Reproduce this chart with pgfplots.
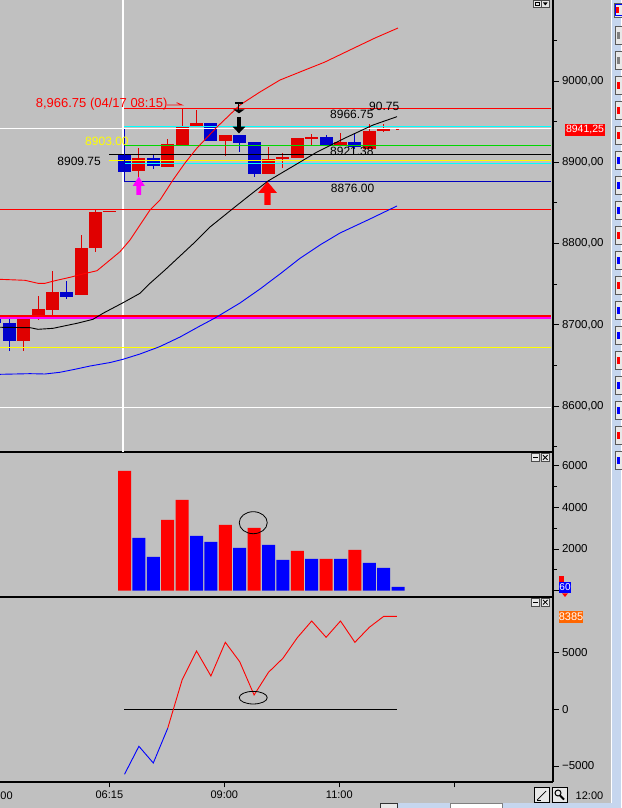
\documentclass[border=0pt]{standalone}
\usepackage{pgfplots}
\pgfplotsset{compat=1.18}
\usepackage{pgfplotstable}
\usepackage{fontspec}
\setmainfont{Liberation Sans}

\definecolor{bg}{RGB}{192,192,192}
\definecolor{cred}{RGB}{224,0,0}
\definecolor{cblue}{RGB}{0,0,204}
\definecolor{vred}{RGB}{255,0,0}
\definecolor{vblue}{RGB}{0,0,255}
\definecolor{lcyan}{RGB}{0,255,255}
\definecolor{lgreen}{RGB}{0,215,0}
\definecolor{lyellow}{RGB}{255,255,0}
\definecolor{lmag}{RGB}{255,0,255}
\definecolor{strip}{RGB}{198,214,238}
\definecolor{orng}{RGB}{255,102,0}
\definecolor{btn}{RGB}{232,232,232}
\definecolor{dblue}{RGB}{0,0,190}

% candles: k open close high low
\pgfplotstableread{
k o c h l
-7 8680.4 8710.0 8711.0 8668.0
-6 8712.0 8719.4 8735.4 8705.8
-5 8718.5 8740.3 8766.2 8712.0
-3 8736.6 8794.5 8810.5 8736.6
-2 8794.5 8838.8 8842.5 8789.5
1 8889.6 8905.6 8917.2 8882.2
3 8894.5 8922.5 8928.6 8894.5
4 8920.9 8944.6 8966.75 8920.9
5 8943.0 8948.3 8964.3 8943.0
7 8926.2 8933.5 8933.5 8907.7
10 8885.5 8904.0 8918.8 8885.5
11 8904.4 8906.8 8911.4 8892.9
12 8905.2 8929.8 8929.8 8905.2
13 8928.6 8931.1 8934.8 8920.9
15 8921.6 8924.5 8935.6 8920.0
17 8917.0 8939.0 8947.0 8917.0
18 8938.8 8942.2 8947.0 8937.2
}\redc
\pgfplotstableread{
k o c h l
-9 8710.0 8702.0 8711.0 8700.0
-8 8702.5 8680.0 8709.9 8667.7
-4 8740.3 8734.2 8753.8 8732.0
0 8910.2 8888.4 8910.2 8888.4
2 8905.2 8895.4 8908.9 8891.3
6 8948.3 8926.2 8948.3 8926.2
8 8933.5 8924.0 8933.5 8913.0
9 8924.9 8885.5 8924.9 8882.2
14 8931.0 8920.9 8934.0 8920.9
16 8924.5 8918.4 8935.6 8917.0
}\bluec

\pgfplotsset{
  panel/.style={
    scale only axis, width=553pt,
    xmin=-8.646, xmax=29.757,
    axis y line*=right, axis x line*=bottom,
    axis line style={line width=1.2pt, black, -},
    tick align=outside,
    major tick length=5.5pt, minor tick length=4pt,
    tick style={black, line width=0.8pt},
    ticklabel style={font=\fontsize{11.5}{13}\selectfont},
    /pgf/number format/assume math mode=true,
  },
  cbody/.style={draw=none, no marks, forget plot,
     error bars/.cd, y dir=both, y explicit, error mark=none,
     error bar style={line width=13pt, draw=#1}},
  cwick/.style={draw=none, no marks, forget plot,
     error bars/.cd, y dir=both, y explicit, error mark=none,
     error bar style={line width=1pt, draw=#1}},
}

\begin{document}
\begin{tikzpicture}
\fill[bg] (0,0) rectangle (621pt,808pt);
\useasboundingbox (0,0) rectangle (621pt,808pt);

%================ PRICE PANEL =================
\begin{axis}[panel, name=price, at={(0pt,808pt)}, anchor=north west,
  height=452pt, ymin=8543.4, ymax=9099.7,
  xtick=\empty,
  ytick={8600,8700,8800,8900,9000},
  yticklabels={{8600,00},{8700,00},{8800,00},{8900,00},{9000,00}},
  minor ytick={8550,8650,8750,8850,8950,9050},
]
% crosshair vertical
\addplot[white, line width=2pt] coordinates {(-0.104,8500) (-0.104,9200)};
% candles
\addplot[cwick=cred] table[x=k, y expr={(\thisrow{h}+\thisrow{l})/2}, y error expr={(\thisrow{h}-\thisrow{l})/2}] {\redc};
\addplot[cbody=cred] table[x=k, y expr={(\thisrow{o}+\thisrow{c})/2}, y error expr={abs(\thisrow{c}-\thisrow{o})/2}] {\redc};
\addplot[cwick=cblue] table[x=k, y expr={(\thisrow{h}+\thisrow{l})/2}, y error expr={(\thisrow{h}-\thisrow{l})/2}] {\bluec};
\addplot[cbody=cblue] table[x=k, y expr={(\thisrow{o}+\thisrow{c})/2}, y error expr={abs(\thisrow{o}-\thisrow{c})/2}] {\bluec};
\addplot[cred, line width=1pt] coordinates {(-1.49,8838.8) (-0.59,8838.8)};
\addplot[cred, line width=2pt] coordinates {(18.85,8941.25) (19.05,8941.25)};

% horizontal lines
\addplot[vred, line width=1pt] coordinates {(-0.03,8966.6) (29.62,8966.6)};
\addplot[lcyan, line width=1.6pt] coordinates {(-0.03,8944.2) (29.62,8944.2)};
\addplot[white, line width=1.1pt] coordinates {(-9,8941.0) (29.62,8941.0)};
\addplot[lgreen, line width=1pt] coordinates {(-0.03,8920.9) (29.62,8920.9)};
\addplot[black, line width=1pt] coordinates {(-1.07,8909.8) (29.62,8909.8)};
\addplot[lcyan, line width=1pt] coordinates {(-0.03,8899.0) (29.62,8899.0)};
\addplot[lyellow, line width=1.5pt] coordinates {(-1.07,8902.0) (29.62,8902.0)};
\addplot[dblue, line width=1pt] coordinates {(-0.03,8876.4) (29.62,8876.4)};
\addplot[dblue, line width=1pt] coordinates {(-0.03,8876.4) (-0.03,8940.5)};
\addplot[vred, line width=1pt] coordinates {(-9,8842.1) (29.62,8842.1)};
\addplot[vred, line width=2.2pt] coordinates {(-9,8711.0) (29.62,8711.0)};
\addplot[lmag, line width=1.3pt] coordinates {(-9,8708.2) (29.62,8708.2)};
\addplot[lyellow, line width=0.9pt] coordinates {(-9,8672.6) (29.62,8672.6)};
\addplot[white, line width=1pt] coordinates {(-9,8598.6) (29.62,8598.6)};

% upper band (red)
\addplot[vred, line width=0.9pt] coordinates {
(-8.646,8755.9) (-6.910,8754.7) (-6.007,8751.0) (-5.521,8751.0) (-4.826,8754.2)
(-3.785,8758.4) (-2.882,8762.5) (-1.910,8766.5) (-1.007,8779.7) (-0.313,8789.9)
(0.382,8804.3) (1.076,8822.8) (1.771,8841.2) (2.465,8853.5) (3.368,8878.2)
(4.201,8899.1) (5.035,8917.5) (6.424,8943.4) (8.021,8970.5) (9.410,8986.5)
(10.799,9001.2) (12.188,9011.1) (13.924,9023.4) (15.660,9038.2) (17.396,9052.9)
(18.993,9065.2)};
% middle average (black)
\addplot[black, line width=0.9pt] coordinates {
(-8.646,8696.9) (-6.563,8696.4) (-6.007,8694.4) (-4.965,8695.6) (-3.299,8701.8)
(-2.188,8706.7) (-1.493,8714.1) (-0.104,8727.1) (1.076,8738.7) (1.771,8751.0)
(2.813,8767.4) (3.854,8784.6) (4.896,8801.8) (5.938,8820.3) (7.535,8843.1)
(8.715,8859.7) (9.965,8876.9) (11.493,8892.9) (13.368,8912.6) (15.313,8929.8)
(17.257,8945.8) (18.924,8956.1)};
% lower band (blue)
\addplot[vblue, line width=0.9pt] coordinates {
(-8.646,8639.0) (-6.563,8639.8) (-5.521,8639.4) (-4.479,8641.5) (-3.438,8645.2)
(-2.396,8649.2) (-1.007,8653.5) (-0.104,8657.5) (1.076,8664.0) (2.465,8673.2)
(3.854,8684.9) (5.243,8698.5) (6.285,8708.3) (8.021,8726.8) (9.410,8744.0)
(10.799,8762.5) (12.188,8781.8) (13.576,8798.2) (14.965,8812.9) (17.049,8830.2)
(18.924,8846.2)};

% arrows
\fill[lmag] (0.99,8882.2) -- (1.41,8870.8) -- (1.16,8870.8) -- (1.16,8859.7) -- (0.82,8859.7) -- (0.82,8870.8) -- (0.57,8870.8) -- cycle;
\fill[vred] (9.93,8876.1) -- (10.59,8862.2) -- (10.14,8862.2) -- (10.14,8847.4) -- (9.72,8847.4) -- (9.72,8862.2) -- (9.27,8862.2) -- cycle;
\draw[black, line width=2pt] (7.67,8972.9) -- (8.23,8972.9);
\draw[black, line width=1pt] (7.95,8972.9) -- (7.95,8964);
\fill[black] (7.55,8965.2) -- (8.35,8965.2) -- (7.95,8960.2) -- cycle;
\fill[black] (7.81,8956.1) rectangle (8.09,8943.8);
\fill[black] (7.51,8943.8) -- (8.39,8943.8) -- (7.95,8935.6) -- cycle;
\draw[vred, line width=0.8pt] (2.95,8970.5) -- (3.99,8970.5) -- (3.62,8973.3);

% labels
\node[anchor=base west, inner sep=0pt, text=vred, font=\fontsize{13}{15}\selectfont] at (-6.17,8966.9) {8,966.75 (04/17 08:15)};
\node[anchor=base west, inner sep=0pt, font=\fontsize{12}{14}\selectfont] at (16.98,8964.3) {90.75};
\node[anchor=base west, inner sep=0pt, font=\fontsize{12}{14}\selectfont] at (14.27,8954.1) {8966.75};
\node[anchor=base west, inner sep=0pt, font=\fontsize{12}{14}\selectfont] at (14.27,8908.9) {8921.38};
\node[anchor=base west, inner sep=0pt, font=\fontsize{12}{14}\selectfont] at (14.32,8863.0) {8876.00};
\node[anchor=base west, inner sep=0pt, font=\fontsize{12}{14}\selectfont] at (-4.67,8896.6) {8909.75};
\node[anchor=base west, inner sep=0pt, text=lyellow, font=\fontsize{12}{14}\selectfont] at (-2.74,8920.9) {8903.00};
\end{axis}

%================ VOLUME PANEL =================
\begin{axis}[panel, name=vol, at={(0pt,356pt)}, anchor=north west,
  height=145pt, ymin=-302, ymax=6658,
  xtick=\empty,
  ytick={0,2000,4000,6000}, yticklabels={{},2000,4000,6000},
  minor ytick={1000,3000,5000},
]
\addplot[ybar, bar width=13pt, bar shift=0pt, fill=vred, draw=none] coordinates {
(0,5746) (3,3394) (4,4354) (7,3154) (9,3010) (12,1906) (14,1522) (16,1954)};
\addplot[ybar, bar width=13pt, bar shift=0pt, fill=vblue, draw=none] coordinates {
(1,2530) (2,1618) (5,2626) (6,2338) (8,2050) (10,2194) (11,1474) (13,1522)
(15,1522) (17,1330) (18,1090) (19,178)};
\draw[black, line width=0.8pt] (8.94,3264) ellipse [x radius=14pt, y radius=11pt];
\end{axis}

%================ INDICATOR PANEL =================
\begin{axis}[panel, name=ind, at={(0pt,211pt)}, anchor=north west,
  height=185pt, ymin=-6415, ymax=9909,
  xtick={-1.05,6.93,14.92,22.9}, xticklabels={06:15,09:00,11:00,{}},
  xticklabel style={font=\fontsize{11}{13}\selectfont},
  ytick={-5000,0,5000}, yticklabels={−5000,0,5000},
]
\addplot[black, line width=1pt] coordinates {(-0.03,0) (18.92,0)};
\addplot[vblue, line width=0.9pt] coordinates {(0,-5735) (1,-3265) (2,-4738) (3,-1676)};
\addplot[vred, line width=0.9pt] coordinates {(3,-1676) (4,2585) (5,5144) (6,2938) (7,5912)
(8,4200) (9,1262) (10,3265) (11,4500) (12,6318) (13,7791) (14,6353) (15,7791)
(16,5912) (17,7235) (18,8200) (18.92,8200)};
\draw[black, line width=0.8pt] (8.94,1024) ellipse [x radius=14pt, y radius=6.3pt];
\end{axis}

%================ DECORATIONS =================
% current price box
\fill[vred] (565pt,672.3pt) rectangle (605pt,684pt);
\node[white, inner sep=0pt, font=\fontsize{10.5}{12}\selectfont] at (585pt,678.2pt) {8941,25};
% volume marker
\fill[vred] (559pt,226.3pt) rectangle (564pt,232pt);
\fill[vblue] (559pt,214.7pt) rectangle (571pt,226.3pt);
\fill[vred] (562pt,214.7pt) -- (568pt,214.7pt) -- (565pt,211pt) -- cycle;
\node[white, inner sep=0pt, font=\fontsize{10}{11}\selectfont] at (565pt,220.5pt) {60};
% indicator value box
\fill[orng] (559pt,185.3pt) rectangle (583pt,197.3pt);
\node[white, inner sep=0pt, font=\fontsize{11}{12}\selectfont] at (571pt,191.3pt) {8385};
% left time label (cut by the window edge in the original)
\node[anchor=base west, inner sep=0pt, font=\fontsize{11}{13}\selectfont] at (0.3pt,9pt) {00};
% 12:00
\node[anchor=base, inner sep=0pt, font=\fontsize{11}{13}\selectfont] at (589.5pt,9pt) {12:00};
% bottom icons
\filldraw[fill=btn, draw=black, line width=0.6pt] (534pt,5.7pt) rectangle (549pt,20.3pt);
\draw[black, line width=0.7pt] (537pt,8pt) -- (546pt,17pt);
\draw[black, line width=0.5pt] (537pt,8pt) -- (541pt,8pt);
\filldraw[fill=btn, draw=black, line width=0.6pt] (552pt,5.7pt) rectangle (567pt,20.3pt);
\draw[black, line width=1pt] (558pt,15pt) circle (3pt);
\draw[black, line width=1.8pt] (560pt,12.5pt) -- (564pt,8.5pt);
% panel buttons
\foreach \yb in {346.7, 202} {
  \filldraw[fill=btn, draw=gray!60!black, line width=0.5pt] (531.3pt,\yb pt) rectangle (539.3pt,\yb pt+7.6pt);
  \filldraw[fill=btn, draw=gray!60!black, line width=0.5pt] (541.3pt,\yb pt) rectangle (549.3pt,\yb pt+7.6pt);
  \draw[black, line width=0.9pt] (533pt,\yb pt+3.8pt) -- (537.6pt,\yb pt+3.8pt);
  \draw[black, line width=0.8pt] (543pt,\yb pt+1.5pt) -- (547.6pt,\yb pt+6.1pt);
  \draw[black, line width=0.8pt] (543pt,\yb pt+6.1pt) -- (547.6pt,\yb pt+1.5pt);
}
\filldraw[fill=btn, draw=gray!60!black, line width=0.5pt] (533.3pt,801pt) rectangle (541pt,807.5pt);
\draw[black, line width=0.8pt] (535pt,802.5pt) rectangle (539.3pt,806pt);
\filldraw[fill=btn, draw=gray!60!black, line width=0.5pt] (541.3pt,801pt) rectangle (549.3pt,807.5pt);
\fill[black] (543pt,805.5pt) -- (547.6pt,805.5pt) -- (545.3pt,802.5pt) -- cycle;
% right strip
\fill[strip] (611pt,0pt) rectangle (621pt,808pt);
\draw[white, line width=1pt] (611.5pt,0pt) -- (611.5pt,808pt);
\filldraw[fill=btn, draw=gray!70!black, line width=0.5pt] (614pt,791pt) rectangle (623pt,805pt);
\fill[vred] (616pt,795pt) rectangle (619pt,801pt);
\draw[vblue, line width=0.6pt] (615.5pt,793pt) rectangle (622pt,803.5pt);
\foreach \n/\c in {0/gray,1/gray,2/vred,3/vred,4/vred,5/vblue,6/vblue,7/vblue,8/vred,9/vblue,10/vred,11/vblue,12/vblue,13/vred,14/vblue,15/vblue,16/vred,17/vblue} {
  \pgfmathsetmacro{\yt}{808-26.7-25*\n}
  \filldraw[fill=btn, draw=gray!70!black, line width=0.5pt] (615.7pt,\yt pt-17.5pt) rectangle (623pt,\yt pt);
  \fill[\c] (617.3pt,\yt pt-12pt) rectangle (620pt,\yt pt-5pt);
}
% bottom strip
\fill[strip] (397pt,0pt) rectangle (621pt,4.5pt);
\filldraw[fill=white, draw=gray] (450pt,0pt) rectangle (502pt,4.5pt);
\filldraw[fill=btn, draw=gray!40!black] (380pt,0pt) rectangle (397pt,4.5pt);
\end{tikzpicture}
\end{document}
